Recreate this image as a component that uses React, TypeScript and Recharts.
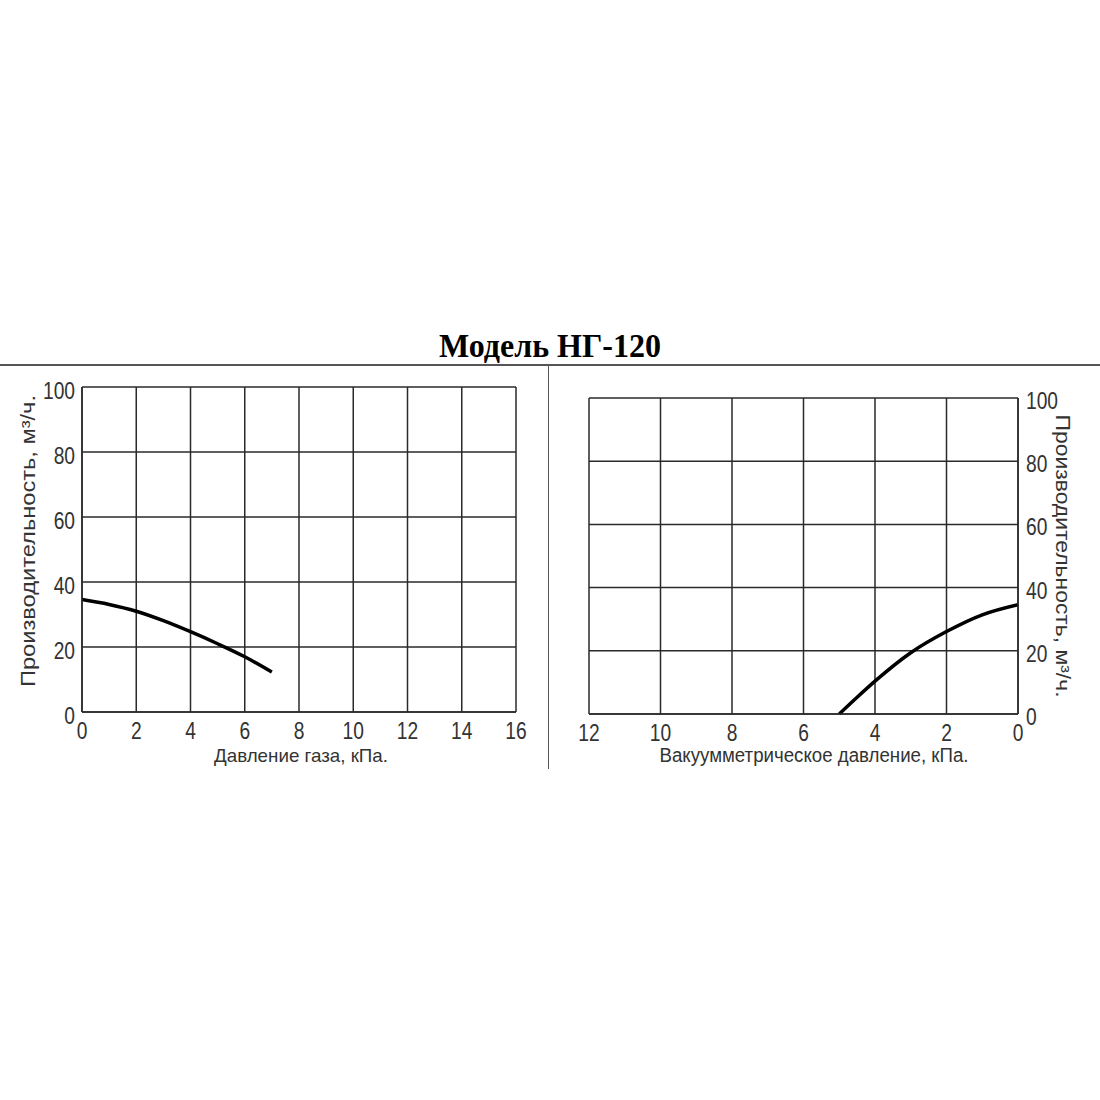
import React from 'react';
import { LineChart, Line, XAxis, YAxis, CartesianGrid } from 'recharts';

const title = 'Модель НГ-120';
const yTitle = 'Производительность, м³/ч.';
const leftXTitle = 'Давление газа, кПа.';
const rightXTitle = 'Вакуумметрическое давление, кПа.';

const leftXTicks = [0, 2, 4, 6, 8, 10, 12, 14, 16];
const rightXTicks = [0, 2, 4, 6, 8, 10, 12];
const yTicks = [0, 20, 40, 60, 80, 100];

const gasPressure = [0, 1, 2, 3, 4, 5, 6, 7];
const gasFlow = [34.6, 33.1, 31.0, 28.1, 24.7, 21.0, 17.0, 12.3];

const vacPressure = [0, 1, 2, 3, 4, 4.5, 5];
const vacFlow = [34.6, 31.4, 26.1, 19.4, 10.4, 5.3, 0];

const leftData = gasPressure.map((p, i) => ({ p, q: gasFlow[i] }));
const rightData = vacPressure.map((p, i) => ({ p, q: vacFlow[i] }));

const FONT = '"Liberation Sans", Arial, sans-serif';
const GRID = '#2a2a2a';
const TEXT = '#333';
const SX = 0.8;

const LeftYTick = (props: any) => {
  const { x, y, payload } = props;
  return (
    <text
      transform={`translate(${x - 7} ${y + 12}) scale(${SX} 1)`}
      textAnchor="end"
      fontFamily={FONT}
      fontSize={24}
      fill={TEXT}
    >
      {payload.value}
    </text>
  );
};

const RightYTick = (props: any) => {
  const { x, y, payload } = props;
  return (
    <text
      transform={`translate(${x + 8} ${y + 11}) scale(${SX} 1)`}
      textAnchor="start"
      fontFamily={FONT}
      fontSize={24}
      fill={TEXT}
    >
      {payload.value}
    </text>
  );
};

const XTick = (props: any) => {
  const { x, y, payload } = props;
  return (
    <text
      transform={`translate(${x} ${y + 27}) scale(${SX} 1)`}
      textAnchor="middle"
      fontFamily={FONT}
      fontSize={24}
      fill={TEXT}
    >
      {payload.value}
    </text>
  );
};

export default function App() {
  return (
    <div style={{ position: 'absolute', left: 0, top: 0, width: 1100, height: 1100, background: '#fff' }}>
      <div
        style={{
          position: 'absolute',
          left: 0,
          top: 327,
          width: 1100,
          textAlign: 'center',
          fontFamily: '"Liberation Serif", "Times New Roman", serif',
          fontWeight: 'bold',
          fontSize: 32,
          lineHeight: '36px',
          color: '#000',
          transform: 'scaleY(1.08)',
        }}
      >
        {title}
      </div>
      <div style={{ position: 'absolute', left: 0, top: 364, width: 1100, height: 2, background: '#555' }} />
      <div style={{ position: 'absolute', left: 548, top: 365, width: 1, height: 404, background: '#555' }} />

      <div style={{ position: 'absolute', left: 0, top: 0 }}>
        <LineChart width={550} height={800} data={leftData} margin={{ top: 387, right: 34, bottom: 48, left: 0 }}>
          <CartesianGrid stroke={GRID} strokeWidth={1.5} />
          <XAxis
            type="number"
            dataKey="p"
            domain={[0, 16]}
            ticks={leftXTicks}
            interval={0}
            height={40}
            tickLine={false}
            tickSize={0}
            tickMargin={0}
            axisLine={{ stroke: GRID, strokeWidth: 1.5 }}
            tick={<XTick />}
            label={{
              content: () => (
                <text
                  x={301}
                  y={762}
                  textAnchor="middle"
                  fontFamily={FONT}
                  fontSize={19}
                  fill={TEXT}
                  textLength={174}
                  lengthAdjust="spacingAndGlyphs"
                >
                  {leftXTitle}
                </text>
              ),
            }}
          />
          <YAxis
            type="number"
            domain={[0, 100]}
            ticks={yTicks}
            interval={0}
            width={82}
            tickLine={false}
            tickSize={0}
            tickMargin={0}
            axisLine={{ stroke: GRID, strokeWidth: 1.5 }}
            tick={<LeftYTick />}
            label={{
              content: () => (
                <text
                  x={0}
                  y={0}
                  transform="translate(35 541) rotate(-90)"
                  textAnchor="middle"
                  fontFamily={FONT}
                  fontSize={19.5}
                  fill={TEXT}
                  textLength={292}
                  lengthAdjust="spacingAndGlyphs"
                >
                  {yTitle}
                </text>
              ),
            }}
          />
          <Line
            type="monotone"
            dataKey="q"
            stroke="#000"
            strokeWidth={3.5}
            dot={false}
            isAnimationActive={false}
          />
        </LineChart>
      </div>

      <div style={{ position: 'absolute', left: 550, top: 0 }}>
        <LineChart width={550} height={800} data={rightData} margin={{ top: 398, right: 0, bottom: 46, left: 39 }}>
          <CartesianGrid stroke={GRID} strokeWidth={1.5} />
          <XAxis
            type="number"
            dataKey="p"
            domain={[0, 12]}
            reversed
            ticks={rightXTicks}
            interval={0}
            height={40}
            tickLine={false}
            tickSize={0}
            tickMargin={0}
            axisLine={{ stroke: GRID, strokeWidth: 1.5 }}
            tick={<XTick />}
            label={{
              content: () => (
                <text
                  x={264}
                  y={762}
                  textAnchor="middle"
                  fontFamily={FONT}
                  fontSize={19.5}
                  fill={TEXT}
                  textLength={309}
                  lengthAdjust="spacingAndGlyphs"
                >
                  {rightXTitle}
                </text>
              ),
            }}
          />
          <YAxis
            type="number"
            orientation="right"
            domain={[0, 100]}
            ticks={yTicks}
            interval={0}
            width={82}
            tickLine={false}
            tickSize={0}
            tickMargin={0}
            axisLine={{ stroke: GRID, strokeWidth: 1.5 }}
            tick={<RightYTick />}
            label={{
              content: () => (
                <text
                  x={0}
                  y={0}
                  transform="translate(506 556) rotate(90)"
                  textAnchor="middle"
                  fontFamily={FONT}
                  fontSize={19.5}
                  fill={TEXT}
                  textLength={283}
                  lengthAdjust="spacingAndGlyphs"
                >
                  {yTitle}
                </text>
              ),
            }}
          />
          <Line
            type="monotone"
            dataKey="q"
            stroke="#000"
            strokeWidth={3.5}
            dot={false}
            isAnimationActive={false}
          />
        </LineChart>
      </div>
    </div>
  );
}
